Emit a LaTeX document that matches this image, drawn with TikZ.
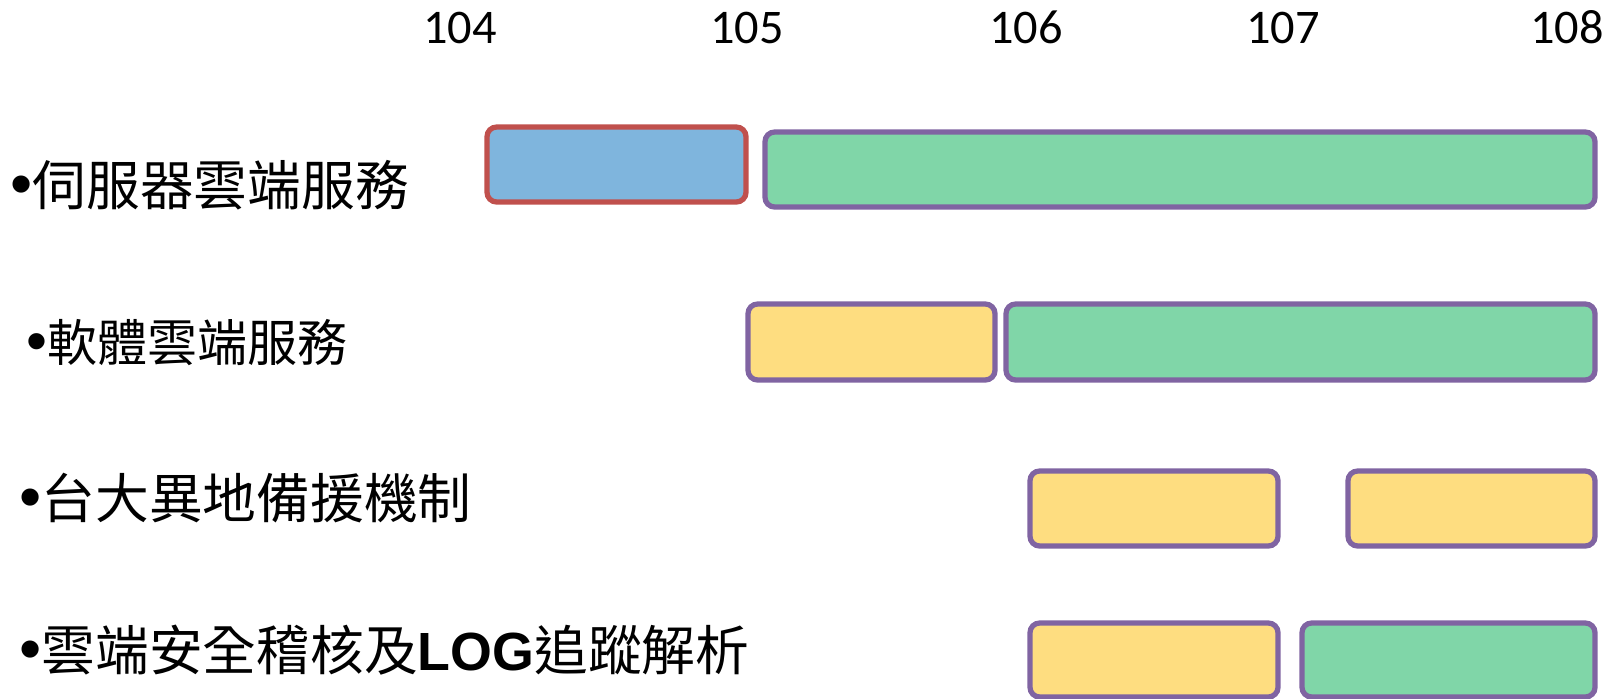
\documentclass[tikz,border=0pt]{standalone}
\usepackage{fontspec}
\setmainfont{Carlito}
\newfontfamily\cjk{Noto Sans CJK TC}
\newfontfamily\arialfont{Liberation Sans}
\definecolor{barblue}{HTML}{7FB5DD}
\definecolor{barred}{HTML}{C0504D}
\definecolor{bargreen}{HTML}{80D6A8}
\definecolor{baryellow}{HTML}{FEDD80}
\definecolor{barpurple}{HTML}{8064A2}
\begin{document}
\begin{tikzpicture}[x=0.02cm,y=-0.02cm,
  year/.style={anchor=base,inner sep=0pt,font=\fontsize{27.5}{27.5}\selectfont},
  item/.style={anchor=base west,inner sep=0pt,font=\fontsize{30.6}{30.6}\cjk},
  bar/.style={line width=3pt,rounded corners=5.5pt,draw=barpurple},
  donebar/.style={bar,draw=barred,fill=barblue},
  planbar/.style={bar,fill=baryellow},
  runbar/.style={bar,fill=bargreen}]
\useasboundingbox (0,0) rectangle (1622,698);

% years
\node[year] (y104) at (460,43) {104};
\node[year] (y105) at (747,43) {105};
\node[year] (y106) at (1026,43) {106};
\node[year] (y107) at (1283,43) {107};
\node[year] (y108) at (1567,43) {108};

% items
\node[item] (srv) at (10,205) {{\arialfont\fontsize{36}{36}\selectfont •}伺服器雲端服務};
\node[item,font=\fontsize{28.5}{28.5}\cjk] (sw) at (26,361) {{\arialfont\fontsize{34}{34}\selectfont •}軟體雲端服務};
\node[item] (bak) at (19,518) {{\arialfont\fontsize{36}{36}\selectfont •}台大異地備援機制};
\node[item] (sec) at (19,670) {{\arialfont\fontsize{36}{36}\selectfont •}雲端安全稽核及{\arialfont\bfseries LOG}追蹤解析};

% bars
\draw[donebar] (487,127) rectangle (746,202);
\draw[runbar] (765,132) rectangle (1595,207);

\draw[planbar] (748,304) rectangle (995,380);
\draw[runbar] (1006,304) rectangle (1595,380);

\draw[planbar] (1030,471) rectangle (1278,546);
\draw[planbar] (1348,471) rectangle (1595,546);

\draw[planbar] (1030,623) rectangle (1278,697);
\draw[runbar] (1302,623) rectangle (1595,697);
\end{tikzpicture}
\end{document}
